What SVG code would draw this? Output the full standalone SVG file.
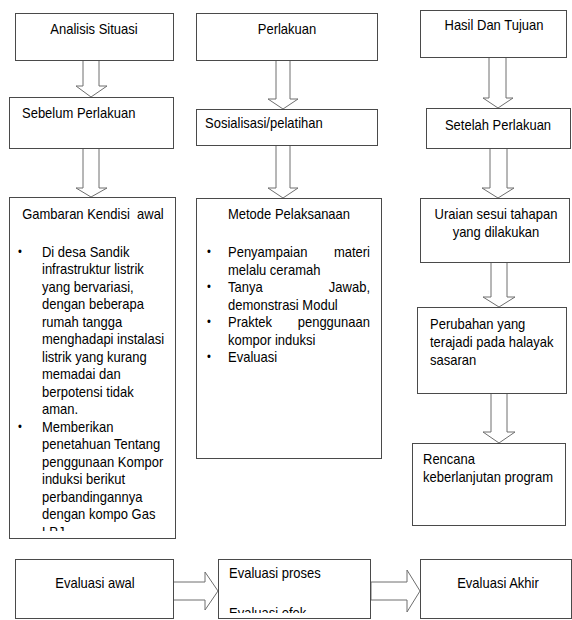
<svg xmlns="http://www.w3.org/2000/svg" width="572" height="620" viewBox="0 0 572 620">
<style>
.box{fill:#fff;stroke:#4a4a4a;stroke-width:1}
.arr{fill:#fff;stroke:#6e6e6e;stroke-width:1}
text{font-family:"Liberation Sans",Arial,sans-serif;font-size:13px;fill:#000;white-space:pre}
.c{text-anchor:middle}
.e{text-anchor:end}
.b{font-size:11px}
</style>
<defs>
<clipPath id="clipG"><rect x="10" y="198" width="165" height="333"/></clipPath>
<clipPath id="clipP"><rect x="219" y="560" width="151" height="53"/></clipPath>
</defs>
<rect width="572" height="620" fill="#fff"/>

<g id="connectors">
<polygon class="arr" points="83,60 99,60 99,86 107,86 91,97 76,86 83,86"/>
<polygon class="arr" points="83,148 99,148 99,188 107,188 91,197 76,188 83,188"/>
<polygon class="arr" points="276,60 290,60 290,99 298,99 283,109 268,99 276,99"/>
<polygon class="arr" points="276,145 290,145 290,188 298,188 283,198 268,188 276,188"/>
<polygon class="arr" points="489,57 506,57 506,98 513,98 498,108 483,98 489,98"/>
<polygon class="arr" points="490,148 507,148 507,188 514,188 498,198 482,188 490,188"/>
<polygon class="arr" points="491,262 507,262 507,297 515,297 499,307 483,297 491,297"/>
<polygon class="arr" points="491,393 507,393 507,432 515,432 499,443 483,432 491,432"/>
<polygon class="arr" points="173,582 205,582 205,572 218,591 205,610 205,600 173,600"/>
<polygon class="arr" points="371,582 407,582 407,570 420,591 407,612 407,600 371,600"/>
</g>

<g id="analisis-situasi">
<rect class="box" x="15.5" y="13.5" width="158" height="47"/>
<text class="c" transform="translate(0,34) scale(1,1.15)" x="94" y="0">Analisis Situasi</text>
</g>
<g id="sebelum-perlakuan">
<rect class="box" x="9.5" y="97.5" width="164" height="51"/>
<text transform="translate(0,118) scale(1,1.15)" x="22" y="0">Sebelum Perlakuan</text>
</g>
<g id="gambaran-kondisi-awal">
<rect class="box" x="9.5" y="197.5" width="166" height="341"/>
<text class="c" transform="translate(0,219) scale(1,1.15)" x="93" y="0">Gambaran Kendisi  awal</text>
<g clip-path="url(#clipG)">
<text class="b" transform="translate(0,256) scale(1,1.15)" x="18" y="0">•</text>
<text class="b" transform="translate(0,431) scale(1,1.15)" x="18" y="0">•</text>
<text transform="translate(0,257) scale(1,1.15)" y="0"><tspan x="42" dy="0">Di desa Sandik</tspan><tspan x="42" dy="15.2">infrastruktur listrik</tspan><tspan x="42" dy="15.2">yang bervariasi,</tspan><tspan x="42" dy="15.2">dengan beberapa</tspan><tspan x="42" dy="15.2">rumah tangga</tspan><tspan x="42" dy="15.2">menghadapi instalasi</tspan><tspan x="42" dy="15.2">listrik yang kurang</tspan><tspan x="42" dy="15.2">memadai dan</tspan><tspan x="42" dy="15.2">berpotensi tidak</tspan><tspan x="42" dy="15.2">aman.</tspan><tspan x="42" dy="15.2">Memberikan</tspan><tspan x="42" dy="15.2">penetahuan Tentang</tspan><tspan x="42" dy="15.2">penggunaan Kompor</tspan><tspan x="42" dy="15.2">induksi berikut</tspan><tspan x="42" dy="15.2">perbandingannya</tspan><tspan x="42" dy="15.2">dengan kompo Gas</tspan><tspan x="42" dy="15.2">LPJ</tspan></text>
</g>
</g>

<g id="perlakuan">
<rect class="box" x="196.5" y="13.5" width="181" height="47"/>
<text class="c" transform="translate(0,34) scale(1,1.15)" x="287" y="0">Perlakuan</text>
</g>
<g id="sosialisasi">
<rect class="box" x="196.5" y="109.5" width="181" height="36"/>
<text transform="translate(0,128) scale(1,1.15)" x="205" y="0">Sosialisasi/pelatihan</text>
</g>
<g id="metode-pelaksanaan">
<rect class="box" x="196.5" y="198.5" width="185" height="260"/>
<text class="c" transform="translate(0,219) scale(1,1.15)" x="289" y="0">Metode Pelaksanaan</text>
<text class="b" transform="translate(0,256) scale(1,1.15)" x="207" y="0">•</text>
<text class="b" transform="translate(0,291) scale(1,1.15)" x="207" y="0">•</text>
<text class="b" transform="translate(0,326) scale(1,1.15)" x="207" y="0">•</text>
<text class="b" transform="translate(0,361) scale(1,1.15)" x="207" y="0">•</text>
<text transform="translate(0,257) scale(1,1.15)" x="228" y="0">Penyampaian</text>
<text class="e" transform="translate(0,257) scale(1,1.15)" x="370" y="0">materi</text>
<text transform="translate(0,274.5) scale(1,1.15)" x="228" y="0">melalu ceramah</text>
<text transform="translate(0,292) scale(1,1.15)" x="228" y="0">Tanya</text>
<text class="e" transform="translate(0,292) scale(1,1.15)" x="370" y="0">Jawab,</text>
<text transform="translate(0,309.5) scale(1,1.15)" x="228" y="0">demonstrasi Modul</text>
<text transform="translate(0,327) scale(1,1.15)" x="228" y="0">Praktek</text>
<text class="e" transform="translate(0,327) scale(1,1.15)" x="370" y="0">penggunaan</text>
<text transform="translate(0,344.5) scale(1,1.15)" x="228" y="0">kompor induksi</text>
<text transform="translate(0,362) scale(1,1.15)" x="228" y="0">Evaluasi</text>
</g>

<g id="hasil-dan-tujuan">
<rect class="box" x="420.5" y="10.5" width="146" height="47"/>
<text class="c" transform="translate(0,30) scale(1,1.15)" x="494" y="0">Hasil Dan Tujuan</text>
</g>
<g id="setelah-perlakuan">
<rect class="box" x="426.5" y="108.5" width="144" height="40"/>
<text class="c" transform="translate(0,130) scale(1,1.15)" x="498" y="0">Setelah Perlakuan</text>
</g>
<g id="uraian">
<rect class="box" x="420.5" y="198.5" width="149" height="64"/>
<text class="c" transform="translate(0,219) scale(1,1.15)" y="0"><tspan x="496" dy="0">Uraian sesui tahapan</tspan><tspan x="496" dy="15.6">yang dilakukan</tspan></text>
</g>
<g id="perubahan">
<rect class="box" x="417.5" y="307.5" width="149" height="86"/>
<text transform="translate(0,329) scale(1,1.15)" y="0"><tspan x="430" dy="0">Perubahan yang</tspan><tspan x="430" dy="15.6">terajadi pada halayak</tspan><tspan x="430" dy="15.6">sasaran</tspan></text>
</g>
<g id="rencana">
<rect class="box" x="412.5" y="443.5" width="153" height="82"/>
<text transform="translate(0,464) scale(1,1.15)" y="0"><tspan x="423" dy="0">Rencana</tspan><tspan x="423" dy="16">keberlanjutan program</tspan></text>
</g>

<g id="evaluasi-awal">
<rect class="box" x="15.5" y="559.5" width="158" height="59"/>
<text class="c" transform="translate(0,588) scale(1,1.15)" x="95" y="0">Evaluasi awal</text>
</g>
<g id="evaluasi-proses">
<rect class="box" x="218.5" y="559.5" width="152" height="59"/>
<g clip-path="url(#clipP)">
<text transform="translate(0,578) scale(1,1.15)" y="0"><tspan x="229" dy="0">Evaluasi proses</tspan><tspan x="229" dy="35">Evaluasi efek</tspan></text>
</g>
</g>
<g id="evaluasi-akhir">
<rect class="box" x="420.5" y="559.5" width="151" height="59"/>
<text class="c" transform="translate(0,588) scale(1,1.15)" x="498" y="0">Evaluasi Akhir</text>
</g>
</svg>
